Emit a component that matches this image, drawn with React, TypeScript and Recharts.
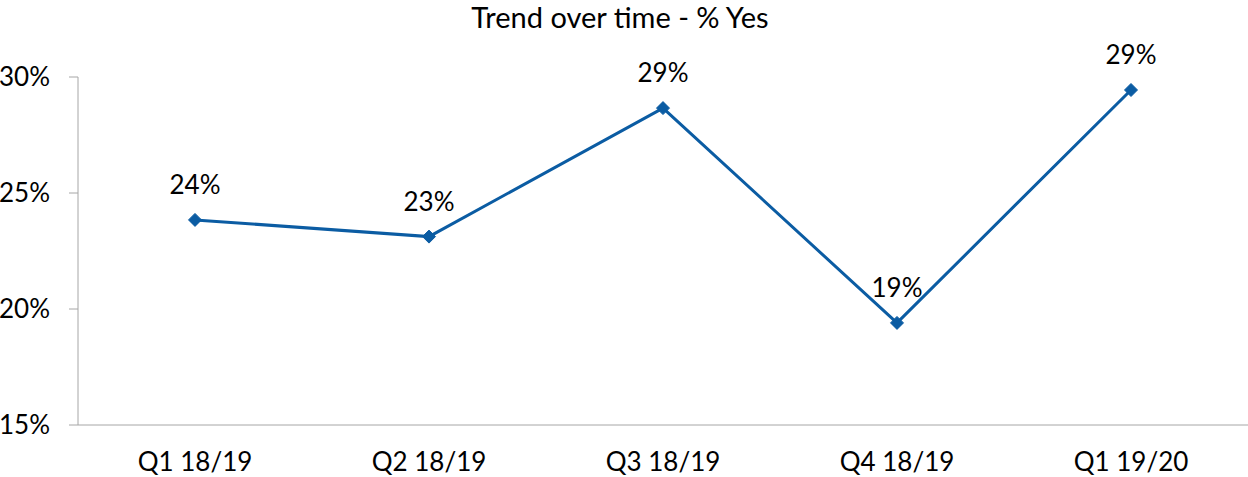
import { LineChart, Line, XAxis, YAxis, LabelList } from 'recharts';

const quarters = ['Q1 18/19', 'Q2 18/19', 'Q3 18/19', 'Q4 18/19', 'Q1 19/20'];
const yesPct = [23.84, 23.12, 28.66, 19.4, 29.44];
const yTicks = [15, 20, 25, 30];
const boundaryTicks = [0, 1, 2, 3, 4, 5];

const data = quarters.map((q, i) => ({ q, yes: yesPct[i], slot: i + 0.5 }));

const FONT = 'Lato, Carlito, Calibri, sans-serif';
const AXIS = '#a6a6a6';
const BLUE = '#0b5ca3';

const Diamond = (props: any) => {
    const { cx, cy } = props;
    if (cx == null || cy == null) return null;
    const r = 6.5;
    return (
        <path
            d={`M${cx},${cy - r} L${cx + r},${cy} L${cx},${cy + r} L${cx - r},${cy} Z`}
            fill={BLUE}
            stroke={BLUE}
        />
    );
};

export default function App() {
    return (
        <div style={{ position: 'absolute', left: 0, top: 0, width: 1248, height: 477, fontFamily: FONT, background: '#fff' }}>
            <div
                style={{
                    position: 'absolute',
                    top: -1,
                    left: 0,
                    width: 1240,
                    textAlign: 'center',
                    fontSize: 29,
                    color: '#000',
                }}
            >
                Trend over time - % Yes
            </div>
            <LineChart width={1248} height={477} data={data} margin={{ top: 77, right: 0, bottom: 0, left: 0 }}>
                {/* hidden numeric axis: draws the axis line and the tick marks between categories */}
                <XAxis
                    xAxisId="bounds"
                    dataKey="slot"
                    type="number"
                    domain={[0, 5]}
                    ticks={boundaryTicks}
                    allowDataOverflow
                    height={1}
                    tick={false}
                    tickSize={8}
                    axisLine={{ stroke: AXIS }}
                    tickLine={{ stroke: AXIS }}
                />
                <XAxis
                    xAxisId="cat"
                    dataKey="q"
                    height={51}
                    padding={{ left: 117, right: 117 }}
                    axisLine={false}
                    tickLine={false}
                    tickSize={8}
                    tickMargin={19}
                    tick={{ fill: '#000', fontSize: 26, fontFamily: FONT }}
                />
                <YAxis
                    width={78}
                    domain={[15, 30]}
                    ticks={yTicks}
                    tickFormatter={(v: number) => `${v}%`}
                    tickSize={9}
                    tickMargin={19}
                    axisLine={{ stroke: AXIS }}
                    tickLine={{ stroke: AXIS }}
                    tick={{ fill: '#000', fontSize: 26, fontFamily: FONT }}
                />
                <Line
                    xAxisId="bounds"
                    dataKey="yes"
                    stroke="none"
                    dot={false}
                    activeDot={false}
                    legendType="none"
                    isAnimationActive={false}
                />
                <Line
                    xAxisId="cat"
                    type="linear"
                    dataKey="yes"
                    stroke={BLUE}
                    strokeWidth={3}
                    dot={<Diamond />}
                    activeDot={false}
                    isAnimationActive={false}
                >
                    <LabelList
                        dataKey="yes"
                        position="top"
                        offset={26}
                        formatter={(v: any) => `${Math.round(Number(v))}%`}
                        style={{ fill: '#000', fontSize: 26, fontFamily: FONT }}
                    />
                </Line>
            </LineChart>
        </div>
    );
}
